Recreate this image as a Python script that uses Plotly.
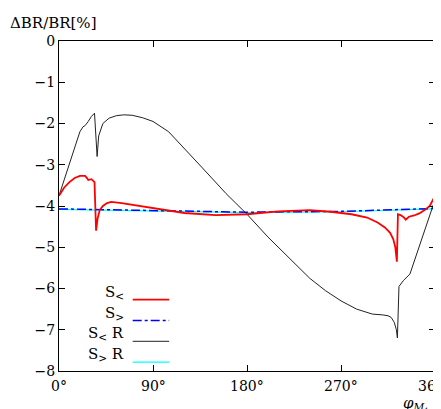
import plotly.graph_objects as go

# S< (red)
red_x = [0, 5, 10, 15, 20, 25, 27, 28, 31, 34, 35.5, 37, 39, 42, 46, 50, 60, 70, 80, 100, 120, 150,
         180, 210, 240, 260, 280, 295, 305, 312, 317, 320, 322, 323.5, 324.5, 327, 330, 332, 335, 340,
         345, 350, 355, 360]
red_y = [-3.75, -3.55, -3.42, -3.32, -3.27, -3.27, -3.33, -3.37, -3.35, -3.42, -4.6, -4.3, -4.1, -4.0,
         -3.93, -3.9, -3.93, -3.97, -4.02, -4.1, -4.17, -4.22, -4.2, -4.13, -4.1, -4.14, -4.2, -4.28,
         -4.4, -4.52, -4.65, -4.8, -5.0, -5.35, -4.2, -4.22, -4.27, -4.33, -4.26, -4.23, -4.18, -4.1,
         -4.0, -3.75]
# S> (blue dash-dot)
blue_x = [0, 90, 180, 270, 360]
blue_y = [-4.07, -4.11, -4.15, -4.13, -4.06]
# S< R (black)
blk_x = [0, 5, 10, 15, 20, 23, 25, 28, 31, 34, 35.5, 36.5, 38, 42, 48, 55, 62, 70, 80, 90, 105, 120,
         140, 160, 180, 200, 220, 240, 255, 270, 285, 300, 310, 315, 318, 321, 323, 324, 325.5, 330, 336,
         340, 345, 350, 355, 360]
blk_y = [-3.75, -3.35, -2.95, -2.55, -2.2, -2.08, -2.05, -1.95, -1.83, -1.75, -2.3, -2.8, -2.3, -2.0,
         -1.87, -1.81, -1.79, -1.8, -1.86, -1.95, -2.2, -2.6, -3.15, -3.7, -4.2, -4.75, -5.25, -5.75,
         -6.05, -6.3, -6.5, -6.62, -6.64, -6.66, -6.7, -6.82, -7.0, -7.2, -5.95, -5.8, -5.65, -5.35, -5.0,
         -4.6, -4.2, -3.85]
# S> R (cyan)
cyan_x = [0, 90, 180, 270, 360]
cyan_y = [-4.08, -4.12, -4.16, -4.14, -4.07]

y_ticks = [0, -1, -2, -3, -4, -5, -6, -7, -8]
y_labels = ["0", "−1", "−2", "−3", "−4", "−5", "−6", "−7", "−8"]
x_ticks = [0, 90, 180, 270, 360]
x_labels = ["0°", "90°", "180°", "270°", "360°"]

FONT = "DejaVu Serif"

fig = go.Figure()
fig.add_trace(go.Scatter(x=cyan_x, y=cyan_y, mode="lines", line=dict(color="#00ffff", width=1.2)))
fig.add_trace(go.Scatter(x=blk_x, y=blk_y, mode="lines", line=dict(color="#222222", width=1)))
fig.add_trace(go.Scatter(x=blue_x, y=blue_y, mode="lines", line=dict(color="#0000ff", width=1.5, dash="dashdot")))
fig.add_trace(go.Scatter(x=red_x, y=red_y, mode="lines", line=dict(color="#ff0000", width=1.8)))

ax = dict(showgrid=False, zeroline=False, showline=True, linecolor="black", linewidth=1.2,
          mirror="ticks", ticks="inside", ticklen=6, tickcolor="black",
          tickfont=dict(family=FONT, size=14, color="black"))
fig.update_xaxes(range=[0, 360], tickvals=x_ticks, showticklabels=False, **ax)
fig.update_yaxes(range=[-8, 0], tickvals=y_ticks, ticktext=y_labels, **ax)

# x tick labels as annotations so the last one is not dropped at the edge
for xv, lab in zip(x_ticks, x_labels):
    fig.add_annotation(x=xv, xref="x", yref="paper", y=-0.015, yanchor="top", text=lab,
                       showarrow=False, font=dict(family=FONT, size=14, color="black"))

# legend drawn by hand: label on the left, sample on the right
leg = [("S<sub><</sub>", "#ff0000", "solid", 1.8),
       ("S<sub>></sub>", "#0000ff", "dashdot", 1.5),
       ("S<sub><</sub> R", "#222222", "solid", 1),
       ("S<sub>></sub> R", "#00ffff", "solid", 1.2)]
for i, (txt, c, d, w) in enumerate(leg):
    yy = 0.216 - i * 0.063
    fig.add_annotation(xref="paper", yref="paper", x=0.178, y=yy, yshift=-4, text=txt, showarrow=False,
                       xanchor="right", font=dict(family=FONT, size=15, color="black"))
    fig.add_shape(type="line", xref="paper", yref="paper", x0=0.196, x1=0.293, y0=yy, y1=yy,
                  line=dict(color=c, dash=d, width=w))

fig.add_annotation(xref="paper", yref="paper", x=-0.135, y=1.02, yanchor="bottom", xanchor="left",
                   text="ΔBR/BR[%]", showarrow=False, font=dict(family=FONT, size=15, color="black"))
fig.add_annotation(xref="paper", yref="paper", x=0.99, y=-0.1, yanchor="middle", xanchor="right",
                   text="<i>φ</i><sub><i>M</i><sub>1</sub></sub>", showarrow=False,
                   font=dict(family=FONT, size=15, color="black"))

fig.update_layout(width=441, height=409, margin=dict(l=51, r=14, t=33, b=46),
                  plot_bgcolor="white", paper_bgcolor="white", showlegend=False)
fig.write_html("out.html")
